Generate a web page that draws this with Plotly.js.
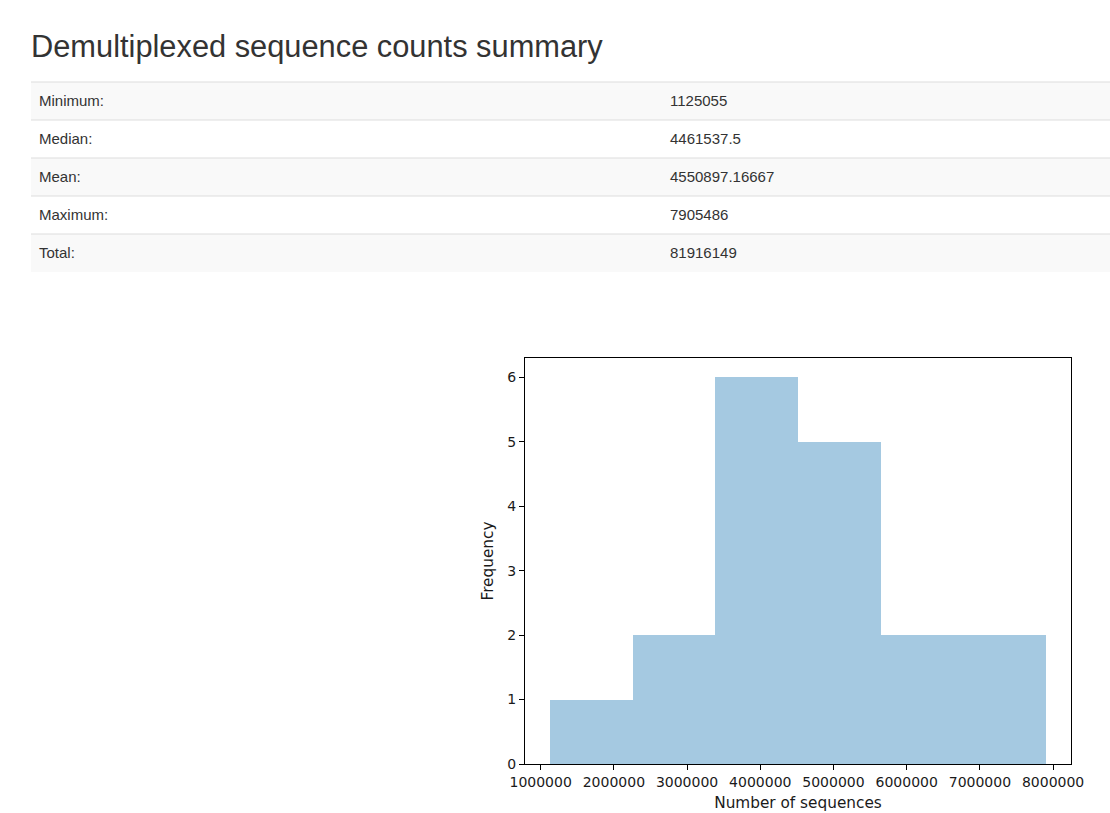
<!DOCTYPE html>
<html>
<head>
<meta charset="utf-8">
<script src="https://cdn.plot.ly/plotly-3.0.1.min.js"></script>
<style>
html, body { margin: 0; padding: 0; background: #fff; }
#chart { width: 1110px; height: 813px; }
</style>
</head>
<body>
<div id="chart"></div>
<script>
// ---- data ----
const statLabels = ["Minimum:", "Median:", "Mean:", "Maximum:", "Total:"];
const statValues = [1125055, 4461537.5, 4550897.16667, 7905486, 81916149];
const binCounts = [1, 2, 6, 5, 2, 2];
const xTickVals = [1000000, 2000000, 3000000, 4000000, 5000000, 6000000, 7000000, 8000000];
const yTickVals = [0, 1, 2, 3, 4, 5, 6];

// ---- derived histogram bins (equal width between min and max) ----
const minV = statValues[0], maxV = statValues[3];
const nBins = binCounts.length;
const binW = (maxV - minV) / nBins;
const binCenters = binCounts.map((_, i) => minV + binW * (i + 0.5));
const pad = (maxV - minV) * 0.05;

// ---- layout helpers (pixel -> paper) ----
const W = 1110, H = 813;
const px = v => v / W;
const py = v => 1 - v / H;
const tableTop = 82, rowH = 38, tableLeft = 31, textShift = 5;

const rowFill = statLabels.map((_, i) => (i % 2 === 0 ? "#f9f9f9" : "#ffffff"));
const clear = "rgba(0,0,0,0)";
const fontTable = { family: "Liberation Sans, Arial, sans-serif", size: 15, color: "#333333" };

const tableTrace = {
  type: "table",
  domain: { x: [px(tableLeft), 1], y: [py(tableTop + textShift + rowH * statLabels.length + 20), py(tableTop + textShift)] },
  columnwidth: [631, 448],
  header: {
    values: [statLabels[0], String(statValues[0])],
    align: "left",
    height: rowH,
    fill: { color: clear },
    line: { width: 0, color: clear },
    font: fontTable
  },
  cells: {
    values: [statLabels.slice(1), statValues.slice(1).map(v => String(v))],
    align: "left",
    height: rowH,
    fill: { color: clear },
    line: { width: 0, color: clear },
    font: fontTable
  },
  hoverinfo: "skip"
};

const barTrace = {
  type: "bar",
  x: binCenters,
  y: binCounts,
  width: binCenters.map(() => binW),
  marker: { color: "rgba(31,119,180,0.4)", line: { width: 0 } },
  xaxis: "x",
  yaxis: "y",
  hoverinfo: "x+y"
};

const tickFont = { family: "DejaVu Sans, sans-serif", size: 14, color: "#1a1a1a" };
const labelFont = { family: "DejaVu Sans, sans-serif", size: 15.3, color: "#1a1a1a" };

const stripeShapes = statLabels.map((_, i) => ({
  type: "rect", xref: "paper", yref: "paper", layer: "below",
  x0: px(tableLeft), x1: 1,
  y0: py(tableTop + rowH * (i + 1)), y1: py(tableTop + rowH * i),
  fillcolor: rowFill[i], line: { width: 0 }
}));
const lineShapes = statLabels.map((_, i) => ({
  type: "line", xref: "paper", yref: "paper", layer: "below",
  x0: px(tableLeft), x1: 1,
  y0: py(tableTop + rowH * i), y1: py(tableTop + rowH * i),
  line: { color: "#dddddd", width: 1 }
}));

const layout = {
  width: W, height: H,
  margin: { l: 0, r: 0, t: 0, b: 0 },
  paper_bgcolor: "#ffffff",
  plot_bgcolor: "rgba(0,0,0,0)",
  showlegend: false,
  title: {
    text: "Demultiplexed sequence counts summary",
    x: px(31), xanchor: "left", xref: "paper",
    y: py(46), yanchor: "middle", yref: "paper",
    font: { family: "Liberation Sans, Arial, sans-serif", size: 30.8, color: "#333333" }
  },
  xaxis: {
    domain: [px(525), px(1071)],
    range: [minV - pad, maxV + pad],
    tickvals: xTickVals,
    ticktext: xTickVals.map(v => String(v)),
    ticks: "outside", ticklen: 5, tickwidth: 1, tickcolor: "#000",
    showline: true, mirror: true, linecolor: "#000", linewidth: 1,
    showgrid: false, zeroline: false,
    tickfont: tickFont,
    title: { text: "Number of sequences", font: labelFont, standoff: 8 },
    anchor: "y",
    fixedrange: true
  },
  yaxis: {
    domain: [py(764), py(358)],
    range: [0, Math.max(...binCounts) * 1.05],
    tickvals: yTickVals,
    ticks: "outside", ticklen: 5, tickwidth: 1, tickcolor: "#000",
    showline: true, mirror: true, linecolor: "#000", linewidth: 1,
    showgrid: false, zeroline: false,
    tickfont: tickFont,
    title: { text: "Frequency", font: labelFont, standoff: 9 },
    anchor: "x",
    fixedrange: true
  },
  bargap: 0,
  shapes: stripeShapes.concat(lineShapes)
};

Plotly.newPlot("chart", [tableTrace, barTrace], layout, { displayModeBar: false });
</script>
</body>
</html>
